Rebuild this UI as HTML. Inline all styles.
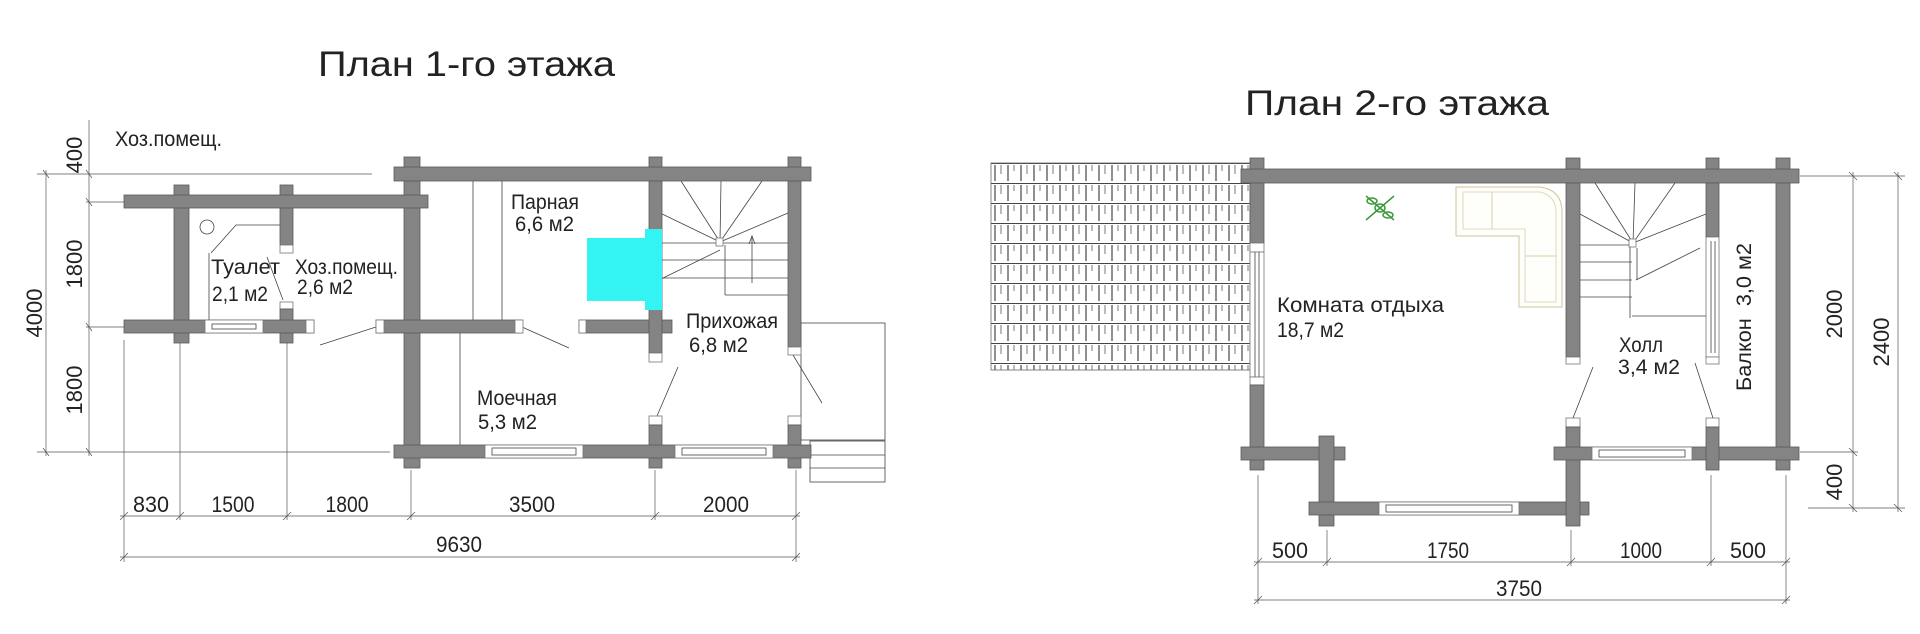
<!DOCTYPE html>
<html><head><meta charset="utf-8"><style>
html,body{margin:0;padding:0;background:#fff;}
svg{display:block;}
text{font-family:"Liberation Sans",sans-serif;fill:#222;}
.w{fill:#848484;stroke:#5a5a5a;stroke-width:0.8;}
.c{fill:#fff;stroke:#777;stroke-width:0.8;}
.l{stroke:#444;stroke-width:0.8;fill:none;}
.d{stroke:#555;stroke-width:0.7;fill:none;}
.t{font-size:21px;}
.dm{font-size:22px;}
</style></head><body>
<svg width="1920" height="634" viewBox="0 0 1920 634" xmlns="http://www.w3.org/2000/svg">
<text x="318" y="76" font-size="35" textLength="297" lengthAdjust="spacingAndGlyphs">План 1-го этажа</text>
<text x="1245" y="115" font-size="35" textLength="304" lengthAdjust="spacingAndGlyphs">План 2-го этажа</text>

<line class="l" x1="473" y1="181" x2="473" y2="320"/>
<line class="l" x1="502" y1="181" x2="502" y2="320"/>
<line class="l" x1="460" y1="333" x2="460" y2="445"/>
<line class="l" x1="209" y1="253" x2="209" y2="320"/>
<polyline class="l" points="211,253 236,225 280,225"/>
<circle cx="207" cy="227" r="7" class="l"/>
<line class="l" x1="283" y1="300" x2="267" y2="257"/>
<line class="l" x1="320" y1="345" x2="376" y2="327"/>
<line class="l" x1="522" y1="327" x2="569" y2="348"/>
<line class="l" x1="678" y1="367" x2="657" y2="416"/>
<line class="l" x1="822" y1="403" x2="793" y2="355"/>
<g class="l">
<line x1="720" y1="242" x2="681" y2="181"/><line x1="720" y1="242" x2="721" y2="181"/><line x1="720" y1="242" x2="762" y2="181"/>
<line x1="720" y1="242" x2="658" y2="212"/><line x1="720" y1="242" x2="788" y2="213"/>
<line x1="658" y1="243" x2="788" y2="243"/><line x1="658" y1="260" x2="788" y2="260"/><line x1="658" y1="278" x2="788" y2="278"/>
<line x1="725" y1="245" x2="725" y2="295"/><line x1="725" y1="295" x2="788" y2="295"/>
<line x1="720" y1="250" x2="653" y2="283"/>
<line x1="752" y1="283" x2="752" y2="237"/><polyline points="749,244 752,236 755,244"/>
</g>
<rect x="716" y="238" width="7" height="8" class="c"/>
<rect x="801" y="323" width="84" height="117" class="l"/>
<rect x="810" y="441" width="75" height="41" class="l"/>
<line class="l" x1="810" y1="455" x2="885" y2="455"/><line class="l" x1="810" y1="468" x2="885" y2="468"/>
<rect class="w" x="404" y="157" width="16" height="12"/>
<rect class="w" x="649" y="157" width="13" height="12"/>
<rect class="w" x="788" y="157" width="13" height="12"/>
<rect class="w" x="394" y="167" width="417" height="14"/>
<rect class="w" x="404" y="181" width="16" height="287"/>
<rect class="w" x="174" y="185" width="15" height="158"/>
<rect class="w" x="280" y="185" width="13" height="60"/>
<rect class="c" x="280" y="245" width="13" height="8"/>
<rect class="c" x="280" y="302" width="13" height="7"/>
<rect class="w" x="280" y="309" width="13" height="34"/>
<rect class="w" x="124" y="195" width="304" height="13"/>
<rect class="w" x="124" y="320" width="190" height="13"/>
<rect class="c" x="205" y="320" width="58" height="13"/><rect class="l" x="212" y="324" width="44" height="5"/>
<rect class="c" x="306" y="320" width="8" height="13"/>
<rect class="w" x="376" y="320" width="146" height="13"/>
<rect class="c" x="376" y="320" width="8" height="13"/><rect class="c" x="515" y="320" width="8" height="13"/>
<rect class="w" x="579" y="320" width="93" height="13"/>
<rect class="c" x="579" y="320" width="7" height="13"/>
<rect class="w" x="649" y="181" width="13" height="172"/>
<rect class="c" x="649" y="353" width="13" height="9"/>
<rect class="w" x="788" y="181" width="13" height="166"/>
<rect class="c" x="788" y="347" width="13" height="8"/>
<rect class="c" x="649" y="416" width="13" height="9"/><rect class="w" x="649" y="425" width="13" height="43"/>
<rect class="c" x="788" y="416" width="13" height="9"/><rect class="w" x="788" y="425" width="13" height="43"/>
<rect class="w" x="394" y="445" width="417" height="13"/>
<rect class="c" x="485" y="445" width="98" height="13"/><rect class="l" x="492" y="448" width="84" height="7"/>
<rect class="c" x="675" y="445" width="98" height="13"/><rect class="l" x="682" y="448" width="84" height="7"/>
<rect fill="#33f3f3" x="587" y="238" width="75" height="63"/>
<rect fill="#33f3f3" x="645" y="229" width="17" height="81"/>
<text class="t" x="115" y="146" textLength="107" lengthAdjust="spacingAndGlyphs">Хоз.помещ.</text>
<text class="t" x="511" y="209" textLength="68" lengthAdjust="spacingAndGlyphs">Парная</text>
<text class="t" x="515" y="231" textLength="59" lengthAdjust="spacingAndGlyphs">6,6 м2</text>
<text class="t" x="211" y="274" textLength="69" lengthAdjust="spacingAndGlyphs">Туалет</text>
<text class="t" x="212" y="301" textLength="56" lengthAdjust="spacingAndGlyphs">2,1 м2</text>
<text class="t" x="295" y="274" textLength="103" lengthAdjust="spacingAndGlyphs">Хоз.помещ.</text>
<text class="t" x="297" y="294" textLength="56" lengthAdjust="spacingAndGlyphs">2,6 м2</text>
<text class="t" x="686" y="328" textLength="92" lengthAdjust="spacingAndGlyphs">Прихожая</text>
<text class="t" x="689" y="352" textLength="59" lengthAdjust="spacingAndGlyphs">6,8 м2</text>
<text class="t" x="477" y="405" textLength="80" lengthAdjust="spacingAndGlyphs">Моечная</text>
<text class="t" x="478" y="429" textLength="59" lengthAdjust="spacingAndGlyphs">5,3 м2</text>
<g class="d">
<line x1="46" y1="170" x2="46" y2="456"/><line x1="89" y1="120" x2="89" y2="456"/>
<line x1="37" y1="174" x2="372" y2="174"/><line x1="86" y1="202" x2="124" y2="202"/>
<line x1="86" y1="327" x2="124" y2="327"/><line x1="37" y1="452" x2="390" y2="452"/>
<line x1="43" y1="170" x2="49" y2="178"/><line x1="43" y1="448" x2="49" y2="456"/>
<line x1="86" y1="170" x2="92" y2="178"/><line x1="86" y1="198" x2="92" y2="206"/><line x1="86" y1="323" x2="92" y2="331"/><line x1="86" y1="448" x2="92" y2="456"/>
<line x1="120" y1="516" x2="800" y2="516"/><line x1="120" y1="557" x2="800" y2="557"/>
<line x1="124" y1="340" x2="124" y2="562"/><line x1="180" y1="343" x2="180" y2="520"/><line x1="287" y1="343" x2="287" y2="520"/>
<line x1="411" y1="470" x2="411" y2="520"/><line x1="655" y1="470" x2="655" y2="520"/><line x1="796" y1="470" x2="796" y2="562"/>
<line x1="120" y1="520" x2="128" y2="512"/><line x1="176" y1="520" x2="184" y2="512"/><line x1="283" y1="520" x2="291" y2="512"/><line x1="407" y1="520" x2="415" y2="512"/><line x1="651" y1="520" x2="659" y2="512"/><line x1="792" y1="520" x2="800" y2="512"/>
<line x1="120" y1="561" x2="128" y2="553"/><line x1="792" y1="561" x2="800" y2="553"/>
</g>
<text class="dm" transform="translate(82,155) rotate(-90)" text-anchor="middle">400</text>
<text class="dm" transform="translate(82,264) rotate(-90)" text-anchor="middle">1800</text>
<text class="dm" transform="translate(82,390) rotate(-90)" text-anchor="middle">1800</text>
<text class="dm" transform="translate(42,313) rotate(-90)" text-anchor="middle">4000</text>
<text class="dm" x="151" y="512" text-anchor="middle" textLength="36" lengthAdjust="spacingAndGlyphs">830</text>
<text class="dm" x="233" y="512" text-anchor="middle" textLength="43" lengthAdjust="spacingAndGlyphs">1500</text>
<text class="dm" x="347" y="512" text-anchor="middle" textLength="43" lengthAdjust="spacingAndGlyphs">1800</text>
<text class="dm" x="532" y="512" text-anchor="middle" textLength="46" lengthAdjust="spacingAndGlyphs">3500</text>
<text class="dm" x="726" y="512" text-anchor="middle" textLength="46" lengthAdjust="spacingAndGlyphs">2000</text>
<text class="dm" x="459" y="552" text-anchor="middle" textLength="46" lengthAdjust="spacingAndGlyphs">9630</text>

<defs>
<pattern id="tile" x="991" y="163" width="26" height="20" patternUnits="userSpaceOnUse">
<rect width="26" height="20" fill="#fff"/>
<line x1="0" y1="0.5" x2="26" y2="0.5" stroke="#444" stroke-width="1"/>
<line x1="4" y1="2" x2="4" y2="18" stroke="#555" stroke-width="1.3"/>
<line x1="17" y1="2" x2="17" y2="18" stroke="#555" stroke-width="1.3"/>
<line x1="10" y1="2" x2="10" y2="11" stroke="#777" stroke-width="1"/>
<line x1="23" y1="2" x2="23" y2="8" stroke="#777" stroke-width="1"/>
</pattern>
</defs>
<rect x="991" y="163" width="259" height="207" fill="url(#tile)" stroke="#666" stroke-width="0.8"/>
<g class="l">
<line x1="1633" y1="243" x2="1595" y2="183"/><line x1="1633" y1="243" x2="1635" y2="183"/><line x1="1633" y1="243" x2="1675" y2="183"/>
<line x1="1633" y1="243" x2="1580" y2="214"/><line x1="1633" y1="243" x2="1706" y2="214"/>
<line x1="1580" y1="245" x2="1632" y2="245"/><line x1="1580" y1="262" x2="1632" y2="262"/><line x1="1580" y1="280" x2="1632" y2="280"/><line x1="1580" y1="297" x2="1632" y2="297"/>
<line x1="1630" y1="243" x2="1630" y2="318"/><line x1="1632" y1="316" x2="1706" y2="316"/>
<line x1="1700" y1="248" x2="1636" y2="280"/>
<line x1="1637" y1="248" x2="1637" y2="280"/>
</g>
<rect x="1629" y="239" width="7" height="8" class="c"/>
<path d="M1456,187 H1540 Q1562,190 1562,212 V307 H1519 V236 H1456 Z" fill="#fefefa" stroke="#cfc69a" stroke-width="1"/>
<path d="M1463,192 H1540 Q1556,196 1556,212 V302 H1525 V229 H1463 Z" fill="none" stroke="#d8d0a8" stroke-width="0.8"/>
<line x1="1492" y1="192" x2="1492" y2="229" stroke="#d8d0a8"/><line x1="1525" y1="256" x2="1556" y2="256" stroke="#d8d0a8"/>
<g stroke="#3a9a3a" stroke-width="1.5" fill="none">
<line x1="1366" y1="196" x2="1394" y2="220"/><line x1="1394" y1="196" x2="1366" y2="220"/>
<ellipse cx="1372" cy="201" rx="5" ry="3"/><ellipse cx="1388" cy="215" rx="5" ry="3"/>
<ellipse cx="1380" cy="208" rx="5" ry="4"/>
</g>
<rect class="w" x="1250" y="158" width="14" height="12"/>
<rect class="w" x="1566" y="158" width="14" height="12"/>
<rect class="w" x="1706" y="158" width="13" height="12"/>
<rect class="w" x="1776" y="158" width="14" height="12"/>
<rect class="w" x="1241" y="169" width="558" height="14"/>
<rect class="w" x="1250" y="183" width="14" height="60"/>
<rect class="c" x="1250" y="243" width="14" height="9"/>
<rect class="c" x="1250" y="252" width="14" height="125"/><line class="l" x1="1255" y1="252" x2="1255" y2="377"/><line class="l" x1="1259" y1="252" x2="1259" y2="377"/>
<rect class="c" x="1250" y="377" width="14" height="8"/>
<rect class="w" x="1250" y="385" width="14" height="85"/>
<rect class="w" x="1566" y="183" width="14" height="174"/>
<rect class="c" x="1566" y="357" width="14" height="7"/>
<rect class="w" x="1706" y="183" width="13" height="54"/>
<rect class="c" x="1706" y="237" width="13" height="120"/><line class="l" x1="1711" y1="241" x2="1711" y2="353"/><line class="l" x1="1715" y1="241" x2="1715" y2="353"/>
<rect class="c" x="1706" y="357" width="13" height="7"/>
<rect class="w" x="1776" y="183" width="14" height="287"/>
<rect class="w" x="1241" y="447" width="104" height="13"/>
<rect class="w" x="1319" y="436" width="15" height="90"/>
<rect class="w" x="1309" y="502" width="280" height="13"/>
<rect class="c" x="1379" y="502" width="140" height="13"/><rect class="l" x="1386" y="505" width="126" height="7"/>
<rect class="c" x="1566" y="418" width="14" height="9"/>
<rect class="w" x="1566" y="427" width="14" height="99"/>
<rect class="w" x="1554" y="447" width="245" height="13"/>
<rect class="c" x="1592" y="447" width="100" height="13"/><rect class="l" x="1599" y="450" width="86" height="7"/>
<rect class="c" x="1706" y="418" width="13" height="9"/>
<rect class="w" x="1706" y="427" width="13" height="43"/>
<line class="l" x1="1593" y1="367" x2="1573" y2="418"/>
<line class="l" x1="1695" y1="363" x2="1713" y2="418"/>
<text class="t" x="1277" y="312" textLength="167" lengthAdjust="spacingAndGlyphs">Комната отдыха</text>
<text class="t" x="1277" y="337" textLength="67" lengthAdjust="spacingAndGlyphs">18,7 м2</text>
<text class="t" x="1619" y="352" textLength="44" lengthAdjust="spacingAndGlyphs">Холл</text>
<text class="t" x="1618" y="374" textLength="62" lengthAdjust="spacingAndGlyphs">3,4 м2</text>
<text class="t" transform="translate(1751,317) rotate(-90)" text-anchor="middle" textLength="148" lengthAdjust="spacingAndGlyphs">Балкон&#160;&#160;3,0 м2</text>
<g class="d">
<line x1="1800" y1="176" x2="1905" y2="176"/><line x1="1800" y1="452" x2="1858" y2="452"/><line x1="1808" y1="508" x2="1905" y2="508"/>
<line x1="1853" y1="172" x2="1853" y2="512"/><line x1="1898" y1="172" x2="1898" y2="512"/>
<line x1="1849" y1="172" x2="1857" y2="180"/><line x1="1849" y1="448" x2="1857" y2="456"/><line x1="1849" y1="504" x2="1857" y2="512"/>
<line x1="1894" y1="172" x2="1902" y2="180"/><line x1="1894" y1="504" x2="1902" y2="512"/>
<line x1="1254" y1="562" x2="1790" y2="562"/><line x1="1254" y1="600" x2="1790" y2="600"/>
<line x1="1258" y1="475" x2="1258" y2="604"/><line x1="1327" y1="530" x2="1327" y2="566"/><line x1="1571" y1="530" x2="1571" y2="566"/><line x1="1711" y1="475" x2="1711" y2="566"/><line x1="1786" y1="475" x2="1786" y2="604"/>
<line x1="1254" y1="566" x2="1262" y2="558"/><line x1="1323" y1="566" x2="1331" y2="558"/><line x1="1567" y1="566" x2="1575" y2="558"/><line x1="1707" y1="566" x2="1715" y2="558"/><line x1="1782" y1="566" x2="1790" y2="558"/>
<line x1="1254" y1="604" x2="1262" y2="596"/><line x1="1782" y1="604" x2="1790" y2="596"/>
</g>
<text class="dm" transform="translate(1842,314) rotate(-90)" text-anchor="middle">2000</text>
<text class="dm" transform="translate(1842,482) rotate(-90)" text-anchor="middle">400</text>
<text class="dm" transform="translate(1889,342) rotate(-90)" text-anchor="middle">2400</text>
<text class="dm" x="1290" y="558" text-anchor="middle" textLength="36" lengthAdjust="spacingAndGlyphs">500</text>
<text class="dm" x="1448" y="558" text-anchor="middle" textLength="42" lengthAdjust="spacingAndGlyphs">1750</text>
<text class="dm" x="1641" y="558" text-anchor="middle" textLength="42" lengthAdjust="spacingAndGlyphs">1000</text>
<text class="dm" x="1748" y="558" text-anchor="middle" textLength="36" lengthAdjust="spacingAndGlyphs">500</text>
<text class="dm" x="1519" y="596" text-anchor="middle" textLength="46" lengthAdjust="spacingAndGlyphs">3750</text>
</svg>
</body></html>
